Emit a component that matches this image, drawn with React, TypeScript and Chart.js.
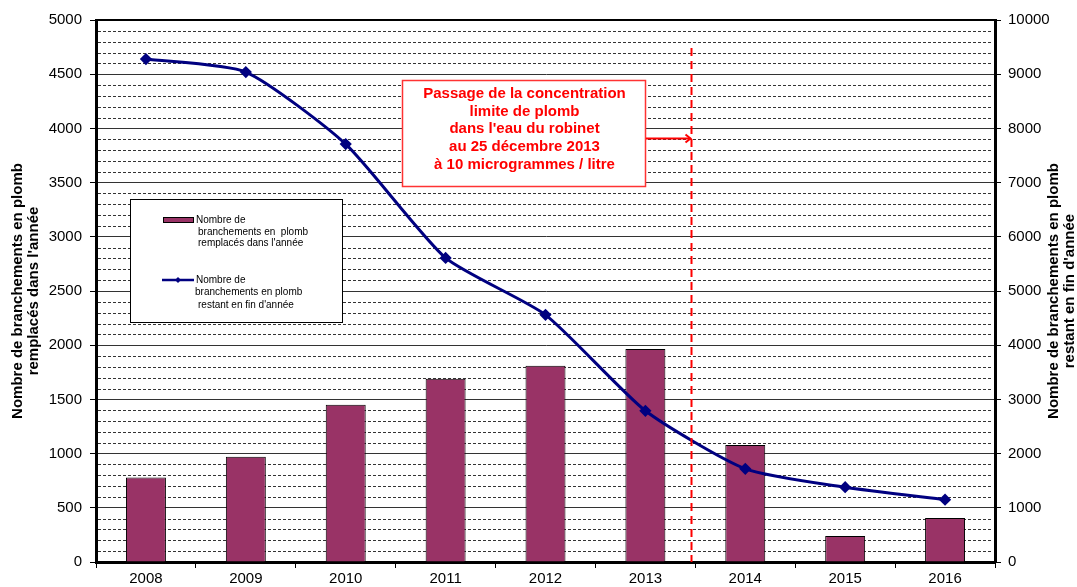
import { useEffect, useRef } from 'react';
import { Chart, registerables } from 'chart.js';

Chart.register(...registerables);

// Années
const years = ['2008', '2009', '2010', '2011', '2012', '2013', '2014', '2015', '2016'];
// Branchements en plomb remplacés dans l'année (axe gauche)
const replacedPerYear = [780, 970, 1450, 1690, 1810, 1965, 1080, 240, 405];
// Branchements en plomb restant en fin d'année (axe droit)
const remainingEndOfYear = [9280, 9040, 7710, 5610, 4560, 2790, 1720, 1380, 1150];

const leftMax = 5000;
const leftMajorStep = 500;
const leftMinorStep = 100;
const rightMax = 10000;
const rightStep = 1000;

// Position du changement de réglementation (25/12/2013), en index de catégorie
const regulationPosition = 5.46;

const leftTitle = ['Nombre de branchements en plomb', "remplacés dans l'année"];
const rightTitle = ['Nombre de branchements en plomb', "restant en fin d'année"];
const noteLines = [
  'Passage de la concentration',
  'limite de plomb',
  "dans l'eau du robinet",
  'au 25 décembre 2013',
  'à 10 microgrammes / litre',
];
const barLegend = ['Nombre de', 'branchements en  plomb', "remplacés dans l'année"];
const lineLegend = ['Nombre de', 'branchements en plomb', "restant en fin d'année"];

const FONT = 'Arial, "Liberation Sans", sans-serif';
const BAR_COLOR = '#993366';
const LINE_COLOR = '#000080';

const plainNumber = (v: any) => String(v);

const minorGrid = {
  id: 'minorGrid',
  beforeDatasetsDraw(chart: any) {
    const { ctx, chartArea, scales } = chart;
    const y = scales.y;
    ctx.save();
    ctx.strokeStyle = '#333';
    ctx.lineWidth = 1;
    ctx.setLineDash([3, 2]);
    for (let v = leftMinorStep; v < leftMax; v += leftMinorStep) {
      if (v % leftMajorStep === 0) continue;
      const py = Math.round(y.getPixelForValue(v)) + 0.5;
      ctx.beginPath();
      ctx.moveTo(chartArea.left + 2, py);
      ctx.lineTo(chartArea.right - 2, py);
      ctx.stroke();
    }
    ctx.setLineDash([]);
    // bord supérieur de la zone de tracé
    ctx.strokeStyle = '#000';
    ctx.lineWidth = 2;
    ctx.beginPath();
    ctx.moveTo(chartArea.left, chartArea.top);
    ctx.lineTo(chartArea.right, chartArea.top);
    ctx.stroke();
    ctx.restore();
  },
};

const decorations = {
  id: 'decorations',
  afterDatasetsDraw(chart: any) {
    const { ctx, chartArea, scales } = chart;
    const x = scales.x;
    const step = x.getPixelForValue(1) - x.getPixelForValue(0);
    const mx = Math.round(x.getPixelForValue(0) + regulationPosition * step) + 0.5;

    // ligne verticale rouge
    ctx.save();
    ctx.strokeStyle = '#ff0000';
    ctx.lineWidth = 2;
    ctx.setLineDash([8, 5]);
    ctx.beginPath();
    ctx.moveTo(mx, chartArea.top + 28);
    ctx.lineTo(mx, chartArea.bottom);
    ctx.stroke();
    ctx.restore();

    // encadré explicatif
    const bx = 402, by = 80, bw = 243, bh = 106;
    ctx.save();
    ctx.fillStyle = '#ffffff';
    ctx.fillRect(bx, by, bw, bh);
    ctx.strokeStyle = '#ff3333';
    ctx.lineWidth = 1.5;
    ctx.strokeRect(bx + 0.5, by + 0.5, bw, bh);
    ctx.fillStyle = '#ff0000';
    ctx.font = `bold 15px ${FONT}`;
    ctx.textAlign = 'center';
    ctx.textBaseline = 'middle';
    noteLines.forEach((t, i) => ctx.fillText(t, bx + bw / 2 + 1, 94 + i * 17.6));

    // flèche vers la ligne rouge
    const ay = 138.5;
    ctx.strokeStyle = '#ff0000';
    ctx.lineWidth = 2;
    ctx.beginPath();
    ctx.moveTo(bx + bw + 1, ay);
    ctx.lineTo(mx - 1, ay);
    ctx.stroke();
    ctx.beginPath();
    ctx.moveTo(mx - 6, ay - 4);
    ctx.lineTo(mx - 1, ay);
    ctx.lineTo(mx - 6, ay + 4);
    ctx.stroke();
    ctx.restore();

    // légende
    const lx = 130, ly = 199, lw = 212, lh = 123;
    ctx.save();
    ctx.fillStyle = '#ffffff';
    ctx.fillRect(lx, ly, lw, lh);
    ctx.strokeStyle = '#000';
    ctx.lineWidth = 1;
    ctx.strokeRect(lx + 0.5, ly + 0.5, lw, lh);
    ctx.fillStyle = BAR_COLOR;
    ctx.fillRect(163, 217, 30, 5);
    ctx.strokeStyle = '#000';
    ctx.strokeRect(163.5, 217.5, 30, 5);
    ctx.strokeStyle = LINE_COLOR;
    ctx.lineWidth = 2.5;
    ctx.beginPath();
    ctx.moveTo(162, 280);
    ctx.lineTo(194, 280);
    ctx.stroke();
    ctx.fillStyle = LINE_COLOR;
    ctx.beginPath();
    ctx.moveTo(178, 277);
    ctx.lineTo(181, 280);
    ctx.lineTo(178, 283);
    ctx.lineTo(175, 280);
    ctx.closePath();
    ctx.fill();
    ctx.fillStyle = '#000';
    ctx.font = `10px ${FONT}`;
    ctx.textAlign = 'left';
    ctx.textBaseline = 'middle';
    const barX = [196, 198, 198];
    barLegend.forEach((t, i) => ctx.fillText(t, barX[i], 220 + i * 11.8));
    const lineX = [196, 195, 198];
    lineLegend.forEach((t, i) => ctx.fillText(t, lineX[i], 280 + i * 12.5));
    ctx.restore();

    // titres d'axes (lus de bas en haut)
    ctx.save();
    ctx.fillStyle = '#000';
    ctx.font = `bold 15px ${FONT}`;
    ctx.textAlign = 'center';
    ctx.textBaseline = 'middle';
    const cy = (chartArea.top + chartArea.bottom) / 2;
    const drawTitle = (lines: string[], cx: number) => {
      ctx.save();
      ctx.translate(cx, cy);
      ctx.rotate(-Math.PI / 2);
      lines.forEach((t, i) => ctx.fillText(t, 0, (i - 0.5) * 16));
      ctx.restore();
    };
    drawTitle(leftTitle, 26);
    drawTitle(rightTitle, 1062);
    ctx.restore();
  },
};

export default function App() {
  const canvasRef = useRef<HTMLCanvasElement | null>(null);

  useEffect(() => {
    if (!canvasRef.current) return;
    const chart = new Chart(canvasRef.current, {
      type: 'bar',
      data: {
        labels: years,
        datasets: [
          {
            type: 'line',
            label: "Nombre de branchements en plomb restant en fin d'année",
            data: remainingEndOfYear,
            yAxisID: 'y2',
            borderColor: LINE_COLOR,
            backgroundColor: LINE_COLOR,
            borderWidth: 3,
            tension: 0.2,
            pointStyle: 'rectRot',
            pointRadius: 4,
            pointBackgroundColor: LINE_COLOR,
            pointBorderColor: LINE_COLOR,
            order: 1,
          },
          {
            type: 'bar',
            label: "Nombre de branchements en plomb remplacés dans l'année",
            data: replacedPerYear,
            yAxisID: 'y',
            backgroundColor: BAR_COLOR,
            borderColor: '#000',
            borderWidth: 1,
            categoryPercentage: 1,
            barPercentage: 0.4,
            order: 2,
          },
        ],
      },
      options: {
        responsive: false,
        animation: false,
        layout: { padding: { top: 20, left: 0, right: 0, bottom: 0 } },
        plugins: {
          legend: { display: false },
          tooltip: { enabled: false },
        },
        scales: {
          x: {
            offset: true,
            grid: {
              offset: true,
              drawOnChartArea: false,
              tickLength: 6,
              tickColor: '#000',
            },
            border: { color: '#000', width: 3 },
            ticks: { color: '#000', font: { family: FONT, size: 15 }, padding: 2 },
            afterFit(s: any) {
              s.height = 25;
            },
          },
          y: {
            position: 'left',
            min: 0,
            max: leftMax,
            grid: { color: '#333', lineWidth: 1, tickLength: 6, tickColor: '#000' },
            border: { color: '#000', width: 3 },
            ticks: {
              stepSize: leftMajorStep,
              color: '#000',
              font: { family: FONT, size: 15 },
              padding: 8,
              callback: plainNumber,
            },
            afterFit(s: any) {
              s.width = 96;
            },
          },
          y2: {
            position: 'right',
            min: 0,
            max: rightMax,
            grid: { drawOnChartArea: false, tickLength: 6, tickColor: '#000' },
            border: { color: '#000', width: 3 },
            ticks: {
              stepSize: rightStep,
              color: '#000',
              font: { family: FONT, size: 15 },
              padding: 7,
              callback: plainNumber,
            },
            afterFit(s: any) {
              s.width = 82;
            },
          },
        },
      },
      plugins: [minorGrid, decorations],
    });
    return () => chart.destroy();
  }, []);

  return (
    <div style={{ position: 'absolute', left: 0, top: 0, width: 1077, height: 587, background: '#fff' }}>
      <canvas ref={canvasRef} width={1077} height={587} />
    </div>
  );
}
